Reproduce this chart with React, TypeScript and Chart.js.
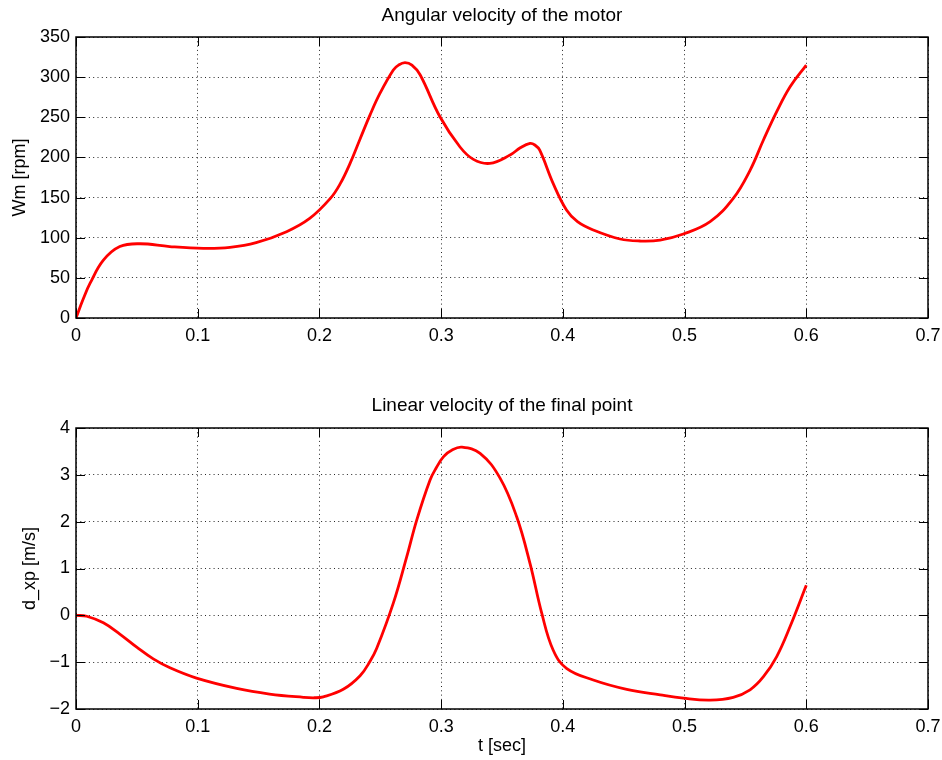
import React, { useEffect, useRef } from 'react';
import { Chart, registerables } from 'chart.js';

Chart.register(...registerables);

// Top subplot: angular velocity of the motor
const motorT = [0, 0.006, 0.0115, 0.0225, 0.036, 0.0526, 0.077, 0.1046, 0.1265, 0.148, 0.173, 0.192, 0.209, 0.217, 0.225, 0.2334, 0.2416, 0.2498, 0.2607, 0.265, 0.2703, 0.276, 0.2827, 0.299, 0.3155, 0.3265, 0.34, 0.3566, 0.365, 0.373, 0.377, 0.381, 0.392, 0.403, 0.412, 0.425, 0.447, 0.4634, 0.4799, 0.499, 0.521, 0.54, 0.5538, 0.5648, 0.5757, 0.5867, 0.6];
const motorW = [0, 24, 43, 72, 89, 92.5, 89, 86.8, 88, 93.8, 107.5, 124, 149, 167, 192, 223, 253, 280, 309, 315, 318, 315, 303, 250.7, 213, 197.6, 192.6, 203, 212, 217.5, 215.5, 209, 167.7, 134.5, 120, 109.6, 98.4, 95.9, 97, 104.6, 120, 149, 184, 221.7, 257, 288, 315];

// Bottom subplot: linear velocity of the final point
const pointT = [0, 0.0088, 0.0225, 0.036, 0.0499, 0.0635, 0.0772, 0.099, 0.132, 0.159, 0.1868, 0.196, 0.2032, 0.2196, 0.2334, 0.2416, 0.247, 0.2607, 0.2717, 0.28, 0.2909, 0.296, 0.302, 0.309, 0.317, 0.332, 0.3484, 0.362, 0.373, 0.3827, 0.392, 0.403, 0.425, 0.4525, 0.48, 0.499, 0.521, 0.54, 0.5538, 0.5648, 0.5757, 0.5867, 0.6];
const pointV = [0, -0.02, -0.16, -0.4, -0.68, -0.93, -1.12, -1.34, -1.56, -1.68, -1.75, -1.76, -1.74, -1.58, -1.29, -0.98, -0.71, 0.26, 1.25, 2.04, 2.89, 3.15, 3.39, 3.53, 3.59, 3.46, 2.93, 2.11, 1.11, 0.04, -0.74, -1.13, -1.38, -1.58, -1.7, -1.77, -1.81, -1.75, -1.59, -1.31, -0.88, -0.24, 0.64];

const xMin = 0;
const xMax = 0.7;
const xStep = 0.1;
const topYMin = 0;
const topYMax = 350;
const topYStep = 50;
const botYMin = -2;
const botYMax = 4;
const botYStep = 1;

const FONT = "'Liberation Sans', Arial, Helvetica, sans-serif";
const FS = 18;
const TFS = 19;

const frameTicks = {
  id: 'frameTicks',
  afterDraw(chart: any) {
    const { ctx, chartArea } = chart;
    const { left, right, top, bottom } = chartArea;
    const xs = chart.scales.x;
    const ys = chart.scales.y;
    const len = 9;
    ctx.save();
    ctx.strokeStyle = '#000';
    ctx.lineWidth = 1;
    ctx.beginPath();
    xs.ticks.forEach((t: any) => {
      const px = Math.round(xs.getPixelForValue(t.value)) + 0.5;
      ctx.moveTo(px, bottom);
      ctx.lineTo(px, bottom - len);
      ctx.moveTo(px, top);
      ctx.lineTo(px, top + len);
    });
    ys.ticks.forEach((t: any) => {
      const py = Math.round(ys.getPixelForValue(t.value)) + 0.5;
      ctx.moveTo(left, py);
      ctx.lineTo(left + len, py);
      ctx.moveTo(right, py);
      ctx.lineTo(right - len, py);
    });
    ctx.stroke();
    ctx.lineWidth = 1.5;
    ctx.strokeRect(left, top, right - left, bottom - top);
    ctx.restore();
  },
};

const fmt = (v: number) => {
  const r = Math.round(v * 1000) / 1000;
  const s = String(r);
  return r < 0 ? '\u2212' + s.slice(1) : s;
};

function makeConfig(opts: {
  t: number[];
  v: number[];
  title: string;
  titlePad: { top: number; bottom: number };
  yLabel: string;
  yLabelPad: number;
  yMin: number;
  yMax: number;
  yStep: number;
  xAxisHeight: number;
  xLabel?: string;
}) {
  const data = opts.t.map((x, i) => ({ x, y: opts.v[i] }));
  return {
    type: 'line' as const,
    data: {
      datasets: [
        {
          data,
          borderColor: '#ff0000',
          borderWidth: 2.8,
          pointRadius: 0,
          fill: false,
          tension: 0.4,
        },
      ],
    },
    options: {
      animation: false as const,
      responsive: false,
      events: [],
      layout: { padding: { left: 0, right: 14, top: 0, bottom: 0 } },
      plugins: {
        legend: { display: false },
        tooltip: { enabled: false },
        title: {
          display: true,
          text: opts.title,
          fullSize: false,
          color: '#000',
          font: { family: FONT, size: TFS, weight: 'normal' as const, lineHeight: 1.2 },
          padding: opts.titlePad,
        },
      },
      scales: {
        x: {
          type: 'linear' as const,
          min: xMin,
          max: xMax,
          afterFit(scale: any) {
            scale.height = opts.xAxisHeight;
            scale.paddingLeft = 0;
            scale.paddingRight = 0;
          },
          afterBuildTicks(scale: any) {
            const ticks = [];
            for (let k = 0; xMin + k * xStep <= xMax + 1e-9; k++) {
              ticks.push({ value: Math.round((xMin + k * xStep) * 1000) / 1000 });
            }
            scale.ticks = ticks;
          },
          ticks: {
            color: '#000',
            font: { family: FONT, size: FS },
            padding: 7,
            maxRotation: 0,
            autoSkip: false,
            callback: (v: any) => fmt(Number(v)),
          },
          grid: { color: 'rgba(0,0,0,0.85)', lineWidth: 1, drawTicks: false },
          border: { display: false, dash: [1, 3.3] },
          title: opts.xLabel
            ? {
                display: true,
                text: opts.xLabel,
                color: '#000',
                font: { family: FONT, size: FS, lineHeight: 1.2 },
                padding: { top: 0, bottom: 3 },
              }
            : { display: false },
        },
        y: {
          type: 'linear' as const,
          min: opts.yMin,
          max: opts.yMax,
          afterFit(scale: any) {
            scale.width = 76;
            scale.paddingTop = 0;
            scale.paddingBottom = 0;
          },
          afterBuildTicks(scale: any) {
            const ticks = [];
            for (let k = 0; opts.yMin + k * opts.yStep <= opts.yMax + 1e-9; k++) {
              ticks.push({ value: opts.yMin + k * opts.yStep });
            }
            scale.ticks = ticks;
          },
          ticks: {
            color: '#000',
            font: { family: FONT, size: FS },
            padding: 6,
            autoSkip: false,
            callback: (v: any) => fmt(Number(v)),
          },
          grid: { color: 'rgba(0,0,0,0.85)', lineWidth: 1, drawTicks: false },
          border: { display: false, dash: [1, 3.3] },
          title: {
            display: true,
            text: opts.yLabel,
            color: '#000',
            font: { family: FONT, size: FS, lineHeight: 1.2 },
            padding: { top: opts.yLabelPad, bottom: 0 },
          },
        },
      },
    },
    plugins: [frameTicks],
  };
}

export default function App() {
  const topRef = useRef<HTMLCanvasElement>(null);
  const botRef = useRef<HTMLCanvasElement>(null);

  useEffect(() => {
    const c1 = new Chart(
      topRef.current as HTMLCanvasElement,
      makeConfig({
        t: motorT,
        v: motorW,
        title: 'Angular velocity of the motor',
        titlePad: { top: 4.5, bottom: 9.7 },
        yLabel: 'Wm [rpm]',
        yLabelPad: 9.5,
        yMin: topYMin,
        yMax: topYMax,
        yStep: topYStep,
        xAxisHeight: 62,
      }) as any
    );
    const c2 = new Chart(
      botRef.current as HTMLCanvasElement,
      makeConfig({
        t: pointT,
        v: pointV,
        title: 'Linear velocity of the final point',
        titlePad: { top: 14.4, bottom: 10.8 },
        yLabel: 'd_xp [m/s]',
        yLabelPad: 19,
        yMin: botYMin,
        yMax: botYMax,
        yStep: botYStep,
        xAxisHeight: 51,
        xLabel: 't [sec]',
      }) as any
    );
    return () => {
      c1.destroy();
      c2.destroy();
    };
  }, []);

  return (
    <div style={{ position: 'fixed', left: 0, top: 0, width: 942, height: 760, background: '#fff' }}>
      <canvas ref={topRef} width={942} height={380} style={{ display: 'block', width: 942, height: 380 }} />
      <canvas ref={botRef} width={942} height={380} style={{ display: 'block', width: 942, height: 380 }} />
    </div>
  );
}
